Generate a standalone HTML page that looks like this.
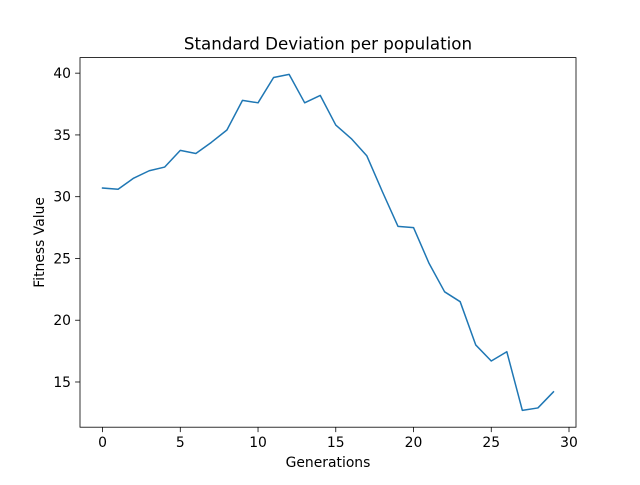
<!DOCTYPE html>
<html><head><meta charset="utf-8"><style>
body{margin:0;background:#fff;}
svg{font-family:"DejaVu Sans","Liberation Sans",sans-serif;}
</style></head><body>
<svg id="chart" width="640" height="480" xmlns="http://www.w3.org/2000/svg">
<rect width="640" height="480" fill="#fff"/>
<text x="328" y="49.5" font-size="16.7" text-anchor="middle">Standard Deviation per population</text>
<g id="axes"></g>
<text x="328" y="467" font-size="13.9" text-anchor="middle">Generations</text>
<text transform="translate(44,242.4) rotate(-90)" font-size="13.9" text-anchor="middle">Fitness Value</text>
</svg>
<script>
const generations=[0,1,2,3,4,5,6,7,8,9,10,11,12,13,14,15,16,17,18,19,20,21,22,23,24,25,26,27,28,29];
const stdValues=[30.7,30.6,31.5,32.1,32.4,33.75,33.5,34.4,35.4,37.8,37.6,39.65,39.9,37.6,38.2,35.8,34.7,33.3,30.4,27.6,27.5,24.6,22.3,21.5,18.0,16.7,17.45,12.7,12.9,14.2];
const xTicks=[0,5,10,15,20,25,30];
const yTicks=[15,20,25,30,35,40];
const L=80,R=576,T=57.6,B=427.2;
const xmin=-1.45,xmax=30.45;
const dmin=Math.min(...stdValues),dmax=Math.max(...stdValues),pad=(dmax-dmin)*0.05;
const ymin=dmin-pad,ymax=dmax+pad;
const sx=v=>L+(v-xmin)/(xmax-xmin)*(R-L);
const sy=v=>B-(v-ymin)/(ymax-ymin)*(B-T);
const ns="http://www.w3.org/2000/svg";
const g=document.getElementById('axes');
function mk(t,a){const e=document.createElementNS(ns,t);for(const k in a)e.setAttribute(k,a[k]);g.appendChild(e);return e;}
const d=generations.map((x,i)=>(i?'L':'M')+sx(x).toFixed(2)+','+sy(stdValues[i]).toFixed(2)).join('');
const line=mk('path',{d:d,fill:'none',stroke:'#1f77b4','stroke-width':1.5,'stroke-linejoin':'round','stroke-linecap':'square'});


const frame=mk('rect',{x:L,y:T,width:R-L,height:B-T,fill:'none',stroke:'#000','stroke-width':0.8});


xTicks.forEach(v=>{const x=sx(v);
 const tk=mk('line',{x1:x,x2:x,y1:B,y2:B+4.9,stroke:'#000','stroke-width':0.8});
 
 
 const t=mk('text',{x:x,y:B+20,'font-size':13.9,'text-anchor':'middle'});t.textContent=v;
 
 
});
yTicks.forEach(v=>{const y=sy(v);
 const tk=mk('line',{x1:L-4.9,x2:L,y1:y,y2:y,stroke:'#000','stroke-width':0.8});
 
 
 const t=mk('text',{x:L-9,y:y+5,'font-size':13.9,'text-anchor':'end'});t.textContent=v;
 
 
});
</script>
</body></html>
